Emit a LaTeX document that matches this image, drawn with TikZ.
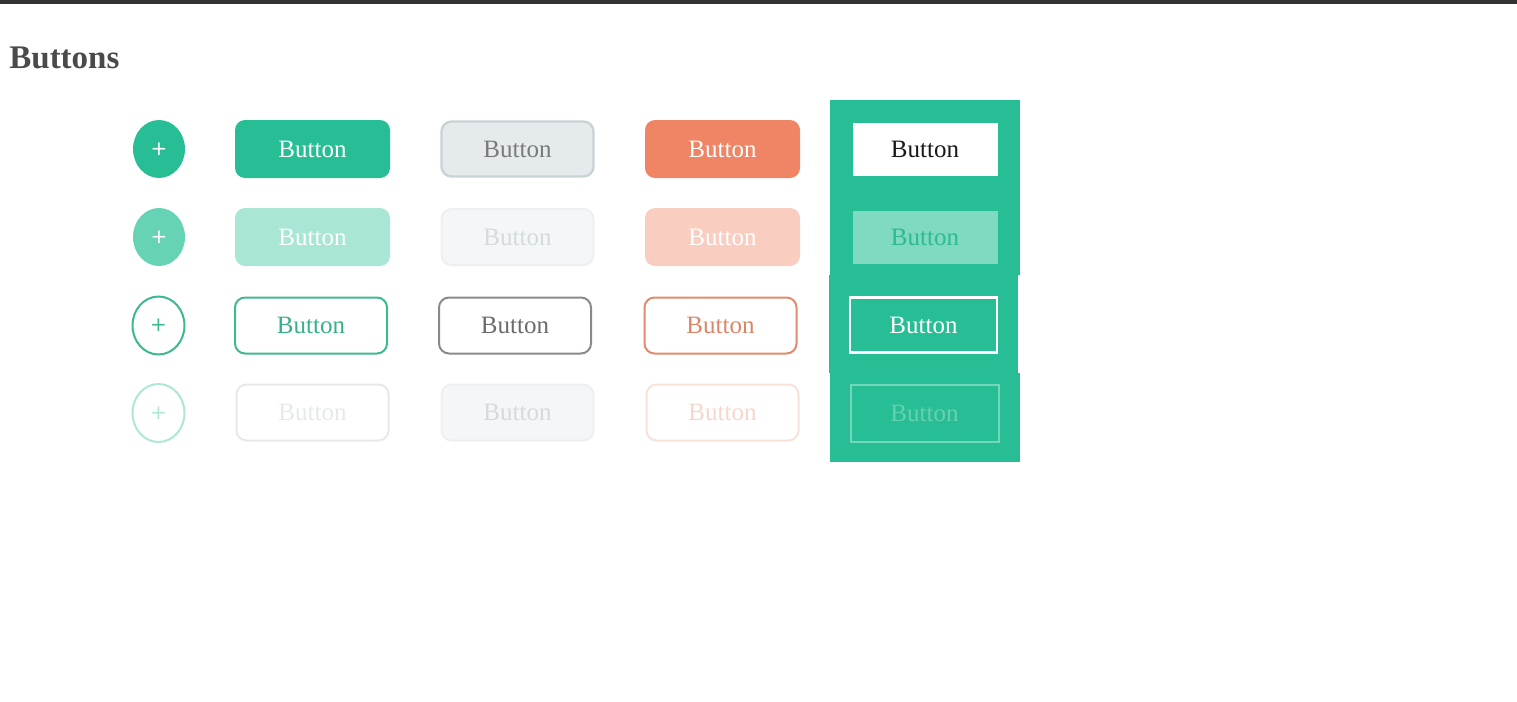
\documentclass[tikz,border=0pt]{standalone}
\usepackage{fontspec}
\setmainfont{Liberation Serif}
\newfontfamily\plusfont{DejaVu Sans}
\usetikzlibrary{shapes.geometric}

\definecolor{brand}{HTML}{27BE96}
\definecolor{brandsoft}{HTML}{66D3B4}
\definecolor{brandfaint}{HTML}{AAE6D6}
\definecolor{brandline}{HTML}{3DB892}
\definecolor{brandtext}{HTML}{36B088}
\definecolor{brandpale}{HTML}{AEE6D7}
\definecolor{greyfill}{HTML}{E5EAEC}
\definecolor{greyline}{HTML}{C9D2D5}
\definecolor{greytext}{HTML}{7A7A7A}
\definecolor{greysoft}{HTML}{F4F6F7}
\definecolor{greysoftline}{HTML}{EDF0F1}
\definecolor{greysofttext}{HTML}{D3DBDC}
\definecolor{greyfaint}{HTML}{E5E9EA}
\definecolor{greyborder}{HTML}{8A8A8A}
\definecolor{greydark}{HTML}{6B6B6B}
\definecolor{coral}{HTML}{EF8564}
\definecolor{coralsoft}{HTML}{F9CEC1}
\definecolor{coralline}{HTML}{E08B6D}
\definecolor{coraltext}{HTML}{DC8466}
\definecolor{coralpale}{HTML}{F8E1D9}
\definecolor{coralpaletext}{HTML}{F6D6CB}
\definecolor{panelsoft}{HTML}{7FDAC1}
\definecolor{paneltext}{HTML}{2DBA92}
\definecolor{panelline}{HTML}{74D6BA}
\definecolor{panelpale}{HTML}{66D0B0}
\definecolor{titlegrey}{HTML}{4A4A4A}
\definecolor{topbar}{HTML}{333333}

\begin{document}
\begin{tikzpicture}[x=0.5pt, y=-0.5pt, every node/.style={font=\fontsize{12.5pt}{15pt}\selectfont}]
\tikzstyle{fab} = [ellipse, minimum width=26pt, minimum height=29pt, inner sep=0pt, font=\plusfont\fontsize{10pt}{12pt}\selectfont]
\tikzstyle{btn} = [rectangle, rounded corners=5pt, minimum width=77.5pt, minimum height=29pt, inner sep=0pt]
\tikzstyle{flat} = [rectangle, minimum width=72.5pt, minimum height=26.5pt, inner sep=0pt]

\useasboundingbox (0,0) rectangle (1517,702);
\fill[topbar] (0,0) rectangle (1517,4);

\node[anchor=base west, font=\bfseries\fontsize{16.5pt}{20pt}\selectfont, text=titlegrey, inner sep=0pt] (title) at (9,68) {Buttons};

% green panel behind the last column
\fill[brand] (830,100) rectangle (1020,275);
\fill[brand] (829,275) rectangle (1018,373);
\fill[brand] (830,373) rectangle (1020,462);

% round buttons
\node[fab, fill=brand, text=white] (fab1) at (159,149) {+};
\node[fab, fill=brandsoft, text=white] (fab2) at (159,237) {+};
\node[fab, draw=brandline, line width=1pt, text=brandline] (fab3) at (158.5,325.5) {+};
\node[fab, draw=brandpale, line width=1pt, text=brandpale] (fab4) at (158.5,413) {+};

% primary
\node[btn, fill=brand, text=white] (prim1) at (312.5,149) {Button};
\node[btn, fill=brandfaint, text=white] (prim2) at (312.5,237) {Button};
\node[btn, draw=brandline, line width=1pt, text=brandtext, minimum width=76pt, minimum height=28pt] (prim3) at (311,325.5) {Button};
\node[btn, draw=greyfaint, line width=1pt, text=greyfaint, minimum width=76pt, minimum height=28pt] (prim4) at (312.5,412.5) {Button};

% grey
\node[btn, fill=greyfill, draw=greyline, line width=1.2pt, text=greytext, minimum width=76pt, minimum height=27.5pt] (grey1) at (517.5,149) {Button};
\node[btn, fill=greysoft, draw=greysoftline, line width=1pt, text=greysofttext, minimum width=76pt, minimum height=28pt] (grey2) at (517.5,237) {Button};
\node[btn, draw=greyborder, line width=1pt, text=greydark, minimum width=76pt, minimum height=28pt] (grey3) at (515,325.5) {Button};
\node[btn, fill=greysoft, draw=greysoftline, line width=1pt, text=greysofttext, minimum width=76pt, minimum height=28pt] (grey4) at (517.5,412.5) {Button};

% coral
\node[btn, fill=coral, text=white] (coral1) at (722.5,149) {Button};
\node[btn, fill=coralsoft, text=white] (coral2) at (722.5,237) {Button};
\node[btn, draw=coralline, line width=1pt, text=coraltext, minimum width=76pt, minimum height=28pt] (coral3) at (720.5,325.5) {Button};
\node[btn, draw=coralpale, line width=1pt, text=coralpaletext, minimum width=76pt, minimum height=28pt] (coral4) at (722.5,412.5) {Button};

% on the panel
\node[flat, fill=white, text=black!90] (flat1) at (925,149) {Button};
\node[flat, fill=panelsoft, text=paneltext] (flat2) at (925,237) {Button};
\node[flat, draw=white, line width=1.2pt, text=white, minimum width=73.5pt, minimum height=27.5pt] (flat3) at (923.5,325) {Button};
\node[flat, draw=panelline, line width=1pt, text=panelpale, minimum width=74pt, minimum height=28.5pt] (flat4) at (924.5,413) {Button};

\end{tikzpicture}
\end{document}
